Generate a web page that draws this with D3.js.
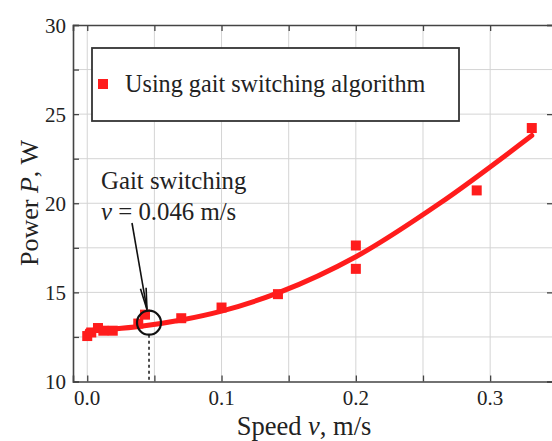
<!DOCTYPE html>
<html>
<head>
<meta charset="utf-8">
<script src="https://cdn.jsdelivr.net/npm/d3@7/dist/d3.min.js"></script>
<style>
  html, body { margin: 0; padding: 0; background: #ffffff; }
  svg { display: block; }
</style>
</head>
<body>
<svg id="chart" width="552" height="441"></svg>
<script>
// Measured power at each walking speed
const speed = [0.000, 0.003, 0.008, 0.012, 0.019, 0.038, 0.043, 0.070, 0.100, 0.142, 0.200, 0.200, 0.290, 0.331];
const power = [12.55, 12.75, 13.0, 12.85, 12.85, 13.25, 13.75, 13.55, 14.15, 14.9, 17.63, 16.32, 20.72, 24.22];

// Fitted trend line (points along the curve)
const fitSpeed = [0.000, 0.020, 0.040, 0.070, 0.100, 0.143, 0.200, 0.2625, 0.331];
const fitPower = [12.85, 12.95, 13.1, 13.45, 13.95, 15.0, 17.0, 20.0, 23.8];

// Axis ticks
const xTickValues = [0.0, 0.1, 0.2, 0.3];
const xTickLabels = ["0.0", "0.1", "0.2", "0.3"];
const xGridValues = [0.0, 0.05, 0.1, 0.15, 0.2, 0.25, 0.3];
const yTickValues = [10, 15, 20, 25, 30];
const yTickLabels = ["10", "15", "20", "25", "30"];
const yGridValues = [12.5, 15, 17.5, 20, 22.5, 25, 27.5];

// Gait switching point
const switchSpeed = 0.046;
const switchPower = 13.3;

const legendLabel = "Using gait switching algorithm";

const serif = "'Liberation Serif', 'Times New Roman', Times, 'DejaVu Serif', serif";
const textColor = "#222";

const svg = d3.select("#chart");
const plotLeft = 73, plotRight = 553, plotTop = 25, plotBottom = 381.5;

const x = d3.scaleLinear().domain([-0.0106, 0.3468]).range([plotLeft, plotRight]);
const y = d3.scaleLinear().domain([10, 30]).range([plotBottom, plotTop]);

const red = "#ff1c1c";
const axisColor = "#444";

function addText(sel) {
  return sel.append("text").attr("font-family", serif).attr("fill", textColor);
}

// Grid
const grid = svg.append("g");
grid.selectAll("line.vx").data(xGridValues).enter().append("line")
  .attr("x1", d => x(d)).attr("x2", d => x(d))
  .attr("y1", plotTop).attr("y2", plotBottom)
  .attr("stroke", "#d4d4d4").attr("stroke-width", 1);
grid.selectAll("line.hy").data(yGridValues).enter().append("line")
  .attr("x1", plotLeft).attr("x2", plotRight)
  .attr("y1", d => y(d)).attr("y2", d => y(d))
  .attr("stroke", "#d4d4d4").attr("stroke-width", 1);

// Axes with inward ticks
const tickLen = 6;
const xAxisB = d3.axisBottom(x).tickValues(xGridValues).tickSize(-tickLen).tickFormat("");
const xAxisT = d3.axisTop(x).tickValues(xGridValues).tickSize(-tickLen).tickFormat("");
const yAxisL = d3.axisLeft(y).tickValues([10, 12.5, 15, 17.5, 20, 22.5, 25, 27.5, 30]).tickSize(-tickLen).tickFormat("");
const yAxisR = d3.axisRight(y).tickValues(yTickValues).tickSize(-tickLen).tickFormat("");

function styleAxis(g) {
  g.select(".domain").attr("stroke", axisColor).attr("stroke-width", 1.6);
  g.selectAll(".tick line").attr("stroke", axisColor).attr("stroke-width", 1.3);
}
svg.append("g").attr("transform", `translate(0,${plotBottom})`).call(xAxisB).call(styleAxis);
svg.append("g").attr("transform", `translate(0,${plotTop})`).call(xAxisT).call(styleAxis);
svg.append("g").attr("transform", `translate(${plotLeft},0)`).call(yAxisL).call(styleAxis);
svg.append("g").attr("transform", `translate(${plotRight},0)`).call(yAxisR).call(styleAxis);

// Tick labels
svg.append("g").selectAll("text").data(xTickValues).enter().append("text")
  .attr("font-family", serif).attr("fill", textColor)
  .attr("x", d => x(d)).attr("y", 405)
  .attr("text-anchor", "middle").attr("font-size", 21)
  .text((d, i) => xTickLabels[i]);
svg.append("g").selectAll("text").data(yTickValues).enter().append("text")
  .attr("font-family", serif).attr("fill", textColor)
  .attr("x", 66).attr("y", d => y(d) + 7.5)
  .attr("text-anchor", "end").attr("font-size", 21)
  .text((d, i) => yTickLabels[i]);

// Axis titles
const xt = addText(svg).attr("x", 304).attr("y", 435)
  .attr("text-anchor", "middle").attr("font-size", 26.5);
xt.append("tspan").text("Speed ");
xt.append("tspan").attr("font-style", "italic").text("v");
xt.append("tspan").text(", m/s");

const yt = addText(svg).attr("transform", "translate(38,203) rotate(-90)")
  .attr("text-anchor", "middle").attr("font-size", 26);
yt.append("tspan").text("Power ");
yt.append("tspan").attr("font-style", "italic").text("P");
yt.append("tspan").text(", W");

// Fitted curve
const fitPts = fitSpeed.map((v, i) => [v, fitPower[i]]);
svg.append("path").datum(fitPts)
  .attr("d", d3.line().x(d => x(d[0])).y(d => y(d[1])).curve(d3.curveMonotoneX))
  .attr("fill", "none").attr("stroke", red).attr("stroke-width", 5)
  .attr("stroke-linecap", "round");

// Measured points
const ms = 10;
svg.append("g").selectAll("rect").data(speed.map((v, i) => [v, power[i]])).enter().append("rect")
  .attr("x", d => x(d[0]) - ms / 2).attr("y", d => y(d[1]) - ms / 2)
  .attr("width", ms).attr("height", ms).attr("fill", red);

// Gait switching marker
const cx = x(switchSpeed), cy = y(switchPower), r = 12;
svg.append("line")
  .attr("x1", cx).attr("x2", cx).attr("y1", cy + r).attr("y2", plotBottom)
  .attr("stroke", "#222").attr("stroke-width", 1.6).attr("stroke-dasharray", "3,3");
svg.append("circle").attr("cx", cx).attr("cy", cy).attr("r", r)
  .attr("fill", "none").attr("stroke", "#111").attr("stroke-width", 2.2);

// Arrow toward the switching point
const ax0 = 132, ay0 = 223, ax1 = cx - 2, ay1 = cy - r - 1;
svg.append("line").attr("x1", ax0).attr("y1", ay0).attr("x2", ax1).attr("y2", ay1)
  .attr("stroke", "#111").attr("stroke-width", 1.6);
const ang = Math.atan2(ay1 - ay0, ax1 - ax0);
const hl = 22, hw = 0.13;
svg.append("path")
  .attr("d", `M${ax1 - hl * Math.cos(ang - hw)},${ay1 - hl * Math.sin(ang - hw)} L${ax1},${ay1} L${ax1 - hl * Math.cos(ang + hw)},${ay1 - hl * Math.sin(ang + hw)}`)
  .attr("fill", "none").attr("stroke", "#111").attr("stroke-width", 1.6);

// Legend box
svg.append("rect").attr("x", 92).attr("y", 48).attr("width", 367).attr("height", 73)
  .attr("fill", "#fff").attr("stroke", "#333").attr("stroke-width", 1.8);
svg.append("rect").attr("x", 98).attr("y", 79).attr("width", ms).attr("height", ms).attr("fill", red);
addText(svg).attr("x", 125).attr("y", 92).attr("font-size", 24.2).text(legendLabel);

// Annotation text
addText(svg).attr("x", 101).attr("y", 189).attr("font-size", 24.8).text("Gait switching");
const at = addText(svg).attr("x", 101).attr("y", 220).attr("font-size", 24.8);
at.append("tspan").attr("font-style", "italic").text("v");
at.append("tspan").text(" = " + switchSpeed.toFixed(3) + " m/s");
</script>
</body>
</html>
